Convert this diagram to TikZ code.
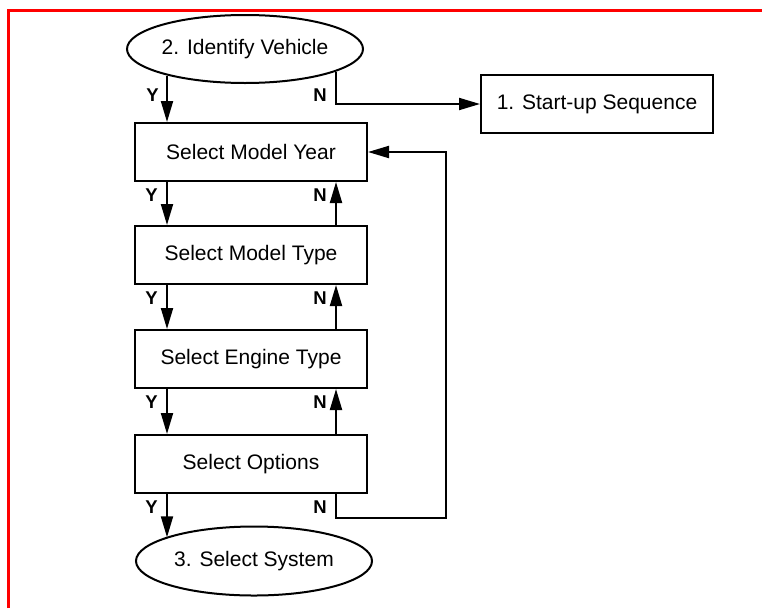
\documentclass[tikz,border=0pt]{standalone}
\usepackage{fontspec}
\setmainfont{Liberation Sans}
\usetikzlibrary{shapes.geometric,arrows.meta}

\begin{document}
\begin{tikzpicture}[x=1pt, y=-1pt,
    box/.style={draw, line width=2pt, minimum width=232pt, minimum height=58pt,
      inner sep=0pt, font=\fontsize{21}{25}\selectfont},
    oval/.style={draw, ellipse, line width=2pt, minimum width=236pt, minimum height=68pt,
      inner sep=0pt, font=\fontsize{21}{25}\selectfont},
    arr/.style={line width=2pt, -{Triangle[length=21pt, width=12pt]}},
    yn/.style={font=\fontsize{18.5}{20}\selectfont\bfseries, inner sep=0pt, anchor=east}]
  \useasboundingbox (0,0) rectangle (762,608);
  % frame
  \draw[red, line width=3pt] (8.5,608) |- (762,10.3);

  % steps
  \node[oval] (ident) at (245,49) {2. Identify Vehicle};
  \node[box] (startup) at (597,104) {1. Start-up Sequence};
  \node[box] (year) at (251,152) {Select Model Year};
  \node[box] (type) at (251,255) {Select Model Type};
  \node[box] (engine) at (251,359) {Select Engine Type};
  \node[box] (options) at (251,464) {Select Options};
  \node[oval, minimum height=69pt] (system) at (254,561) {3. Select System};

  % from the vehicle id
  \draw[arr] ([xshift=-84pt]year.north |- ident.199) -- ([xshift=-84pt]year.north);
  \draw[arr] ([xshift=85pt]year.north |- ident.346) |- (startup.west);
  \node[yn] (y0) at (159,95) {Y};
  \node[yn] (n0) at (327,95) {N};

  % Y down, N back up
  \foreach \a/\b in {year/type, type/engine, engine/options} {
    \draw[arr] ([xshift=-84pt]\a.south) -- ([xshift=-84pt]\b.north);
    \draw[arr] ([xshift=85pt]\b.north) -- ([xshift=85pt]\a.south);
  }
  \foreach \a in {year, type, engine, options} {
    \node[yn] at ([xshift=-93pt, yshift=-13pt]\a.south) {Y};
    \node[yn] at ([xshift=76pt, yshift=-13pt]\a.south) {N};
  }

  % last step
  \draw[arr] ([xshift=-84pt]options.south) -- ([xshift=-84pt]options.south |- system.165);
  \coordinate (back) at (446,518);
  \draw[arr] ([xshift=85pt]options.south) |- (back) |- (year.east);
\end{tikzpicture}
\end{document}
